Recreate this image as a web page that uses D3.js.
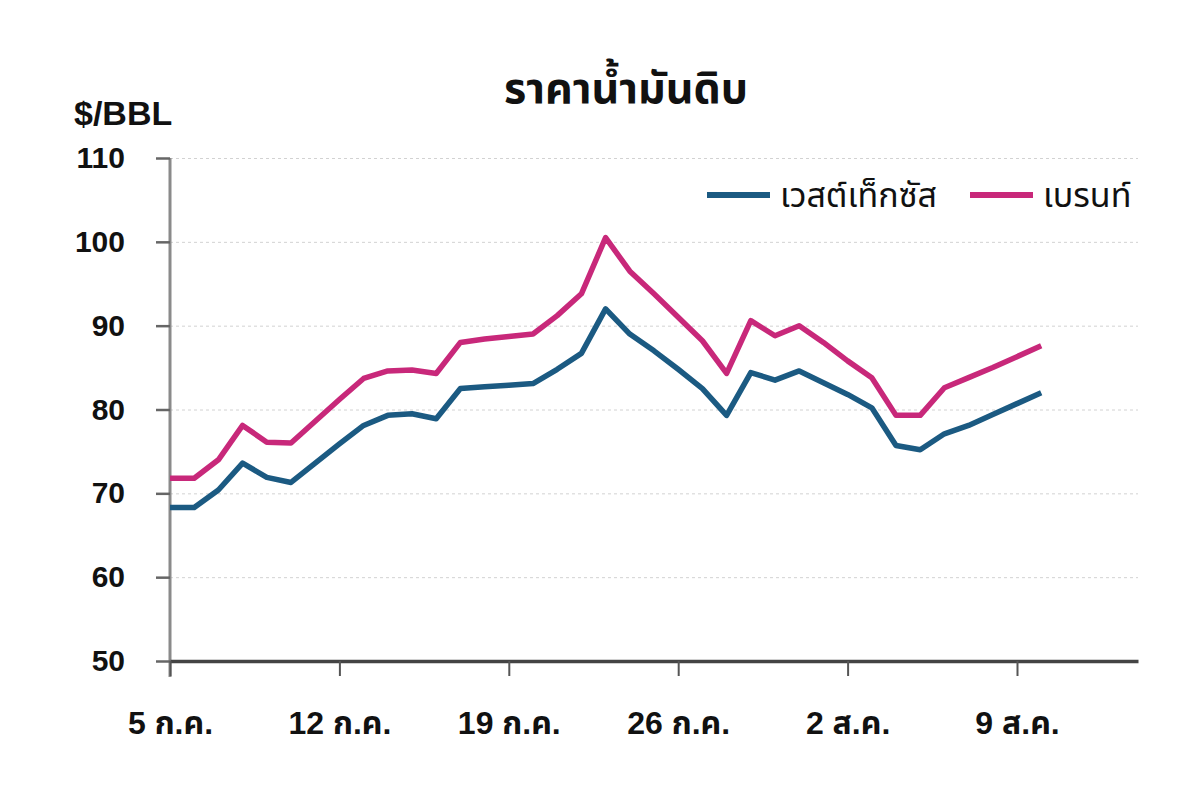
<!DOCTYPE html>
<html>
<head>
<meta charset="utf-8">
<script src="https://cdn.jsdelivr.net/npm/d3@7"></script>
<style>
  body { margin: 0; background: #fff; }
  svg text { font-family: "Liberation Sans", "Noto Sans Thai", "Noto Sans", sans-serif; fill: #111; }
  .grid line { stroke: #d2d2d2; stroke-dasharray: 3, 3; }
  .grid path { stroke-width: 0; }
</style>
</head>
<body>
<div id="chart"></div>
<script>
// daily dates, 5 Jul - 10 Aug
var dates = [
  "2009-07-05","2009-07-06","2009-07-07","2009-07-08","2009-07-09","2009-07-10","2009-07-11",
  "2009-07-12","2009-07-13","2009-07-14","2009-07-15","2009-07-16","2009-07-17","2009-07-18",
  "2009-07-19","2009-07-20","2009-07-21","2009-07-22","2009-07-23","2009-07-24","2009-07-25",
  "2009-07-26","2009-07-27","2009-07-28","2009-07-29","2009-07-30","2009-07-31","2009-08-01",
  "2009-08-02","2009-08-03","2009-08-04","2009-08-05","2009-08-06","2009-08-07","2009-08-08",
  "2009-08-09","2009-08-10"
];
var wti = [
  68.3, 68.3, 70.4, 73.6, 71.9, 71.3, 73.6,
  75.9, 78.1, 79.3, 79.5, 78.9, 82.5, 82.7,
  82.9, 83.1, 84.8, 86.7, 92.0, 89.0, 87.0,
  84.8, 82.5, 79.3, 84.4, 83.5, 84.6, 83.2,
  81.8, 80.2, 75.7, 75.2, 77.1, 78.1, 79.4,
  80.7, 82.0
];
var brent = [
  71.8, 71.8, 74.0, 78.1, 76.1, 76.0, 78.6,
  81.2, 83.7, 84.6, 84.7, 84.3, 88.0, 88.4,
  88.7, 89.0, 91.2, 93.8, 100.5, 96.5, 93.8,
  91.0, 88.2, 84.3, 90.6, 88.8, 90.0, 88.0,
  85.8, 83.8, 79.3, 79.3, 82.6, 83.8, 85.0,
  86.3, 87.6
];
var seriesNames = ["เวสต์เท็กซัส", "เบรนท์"];
var seriesColors = ["#1b5a82", "#c8287a"];
var yTicks = [50, 60, 70, 80, 90, 100, 110];
var xTickDates = ["2009-07-05","2009-07-12","2009-07-19","2009-07-26","2009-08-02","2009-08-09"];
var xTickLabels = ["5 ก.ค.", "12 ก.ค.", "19 ก.ค.", "26 ก.ค.", "2 ส.ค.", "9 ส.ค."];

var W = 1200, H = 808;
var m = { top: 158, right: 62, bottom: 147, left: 170 },
  width = W - m.left - m.right,
  height = H - m.top - m.bottom;

var parse = d3.timeParse("%Y-%m-%d");

var svg = d3.select("#chart").append("svg")
  .attr("width", W)
  .attr("height", H);

var g = svg.append("g")
  .attr("transform", "translate(" + m.left + "," + m.top + ")");

var x = d3.scaleTime()
  .domain([parse("2009-07-05"), parse("2009-08-14")])
  .range([0, width]);
var y = d3.scaleLinear()
  .domain([50, 110])
  .range([height, 0]);

// grid
g.append("g")
  .attr("class", "grid")
  .call(d3.axisLeft(y).tickValues(yTicks.slice(1)).tickSize(-width).tickFormat(""));

// y axis
var yAxis = g.append("g")
  .call(d3.axisLeft(y).tickValues(yTicks).tickSize(14).tickSizeOuter(0).tickPadding(31));
yAxis.select(".domain").attr("stroke", "#8a8a8a").attr("stroke-width", 3)
  .attr("d", "M0," + (height + 16) + "V0");
yAxis.selectAll(".tick line").attr("stroke", "#666").attr("stroke-width", 2.5);
yAxis.selectAll(".tick text")
  .style("font-size", "30px")
  .style("font-weight", "bold")
  .attr("fill", "#111");

// x axis
var xAxis = g.append("g")
  .attr("transform", "translate(0," + height + ")")
  .call(d3.axisBottom(x)
    .tickValues(xTickDates.map(parse))
    .tickSize(15)
    .tickSizeOuter(0)
    .tickPadding(35)
    .tickFormat(function(d, i) { return xTickLabels[i]; }));
xAxis.select(".domain").attr("stroke", "#444").attr("stroke-width", 3.5);
xAxis.selectAll(".tick line").attr("stroke", "#555").attr("stroke-width", 2);
xAxis.selectAll(".tick text")
  .style("font-size", "32px")
  .style("font-weight", "bold")
  .attr("fill", "#111");

// lines
var line = d3.line()
  .x(function(d, i) { return x(parse(dates[i])); })
  .y(function(d) { return y(d); });

[wti, brent].forEach(function(s, k) {
  g.append("path")
    .datum(s)
    .attr("fill", "none")
    .attr("stroke", seriesColors[k])
    .attr("stroke-width", 5.5)
    .attr("stroke-linejoin", "round")
    .attr("d", line);
});

// title + unit
svg.append("text")
  .attr("x", 626).attr("y", 103)
  .attr("text-anchor", "middle")
  .style("font-size", "43px")
  .style("font-weight", "bold")
  .text("ราคาน้ำมันดิบ");
svg.append("text")
  .attr("x", 74).attr("y", 125)
  .style("font-size", "34px")
  .style("font-weight", "bold")
  .text("$/BBL");

// legend
var legendX = [707, 970];
seriesNames.forEach(function(name, k) {
  var lg = svg.append("g").attr("transform", "translate(" + legendX[k] + ",195)");
  lg.append("line")
    .attr("x1", 0).attr("x2", 63)
    .attr("stroke", seriesColors[k])
    .attr("stroke-width", 6);
  lg.append("text")
    .attr("x", 73).attr("y", 12)
    .style("font-size", "34px")
    .text(name);
});
</script>
</body>
</html>
